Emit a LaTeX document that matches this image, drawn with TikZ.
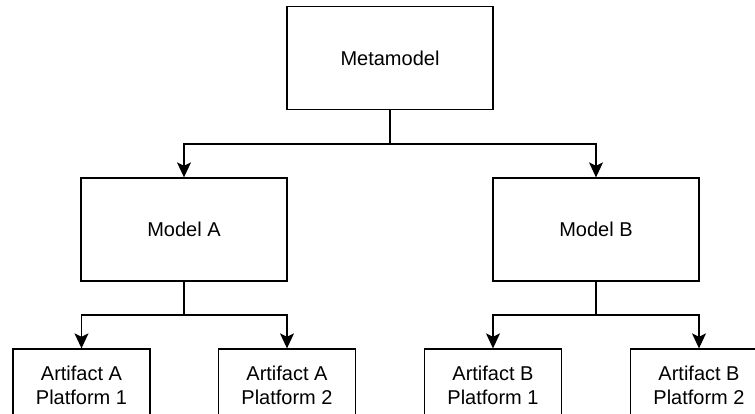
\documentclass[tikz,border=0pt]{standalone}
\usepackage{fontspec}
\setmainfont{Liberation Sans}
\usetikzlibrary{arrows.meta}
\begin{document}
\begin{tikzpicture}[x=1pt,y=-1pt,
 box/.style={draw, line width=1.3pt, minimum width=206pt, minimum height=103pt, inner sep=0pt, font=\fontsize{20}{24}\selectfont, align=center},
 abox/.style={box, minimum width=137pt, minimum height=72pt},
 conn/.style={line width=1.3pt},
 arr/.style={conn, -{Stealth[length=15pt,width=14pt,inset=3.5pt]}}]
\useasboundingbox (0,0) rectangle (755,414);
\clip (0,0) rectangle (755,414);
\node[box] (meta) at (390,58) {Metamodel};
\node[box] (modA) at (184,229.5) {Model A};
\node[box] (modB) at (596,229.5) {Model B};
\node[abox] (a1) at (81.5,385) {Artifact A\\Platform 1};
\node[abox] (a2) at (287,385) {Artifact A\\Platform 2};
\node[abox] (b1) at (493,385) {Artifact B\\Platform 1};
\node[abox] (b2) at (699,385) {Artifact B\\Platform 2};
\coordinate (j0) at (390,144);
\coordinate (jA) at (184,315);
\coordinate (jB) at (596,315);
\draw[conn] (meta.south) -- (j0);
\draw[arr] (j0) -| (modA.north);
\draw[arr] (j0) -| (modB.north);
\draw[conn] (modA.south) -- (jA);
\draw[arr] (jA) -| (a1.north);
\draw[arr] (jA) -| (a2.north);
\draw[conn] (modB.south) -- (jB);
\draw[arr] (jB) -| (b1.north);
\draw[arr] (jB) -| (b2.north);
\end{tikzpicture}
\end{document}
